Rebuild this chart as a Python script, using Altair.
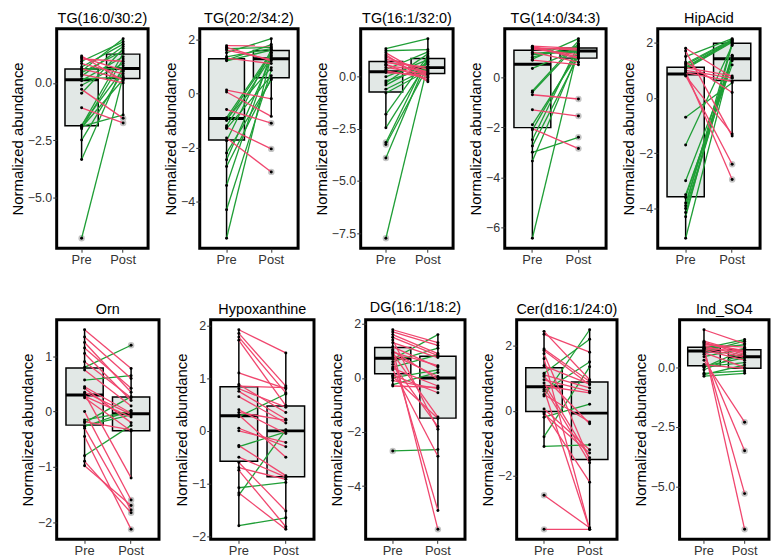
import altair as alt
import pandas as pd

# ---------------- data ----------------
titles = ["TG(16:0/30:2)", "TG(20:2/34:2)", "TG(16:1/32:0)", "TG(14:0/34:3)", "HipAcid",
          "Orn", "Hypoxanthine", "DG(16:1/18:2)", "Cer(d16:1/24:0)", "Ind_SO4"]

tg1_pre = [-6.8, -3.35, -2.5, -2.0, -1.95, -1.9, -1.88, -1.85, -1.09, -0.45, -0.28, -0.1, 0.1,
           0.18, 0.3, 0.38, 0.45, 0.52, 0.58, 0.62, 0.7, 0.85, 0.95, 1.05, 1.12, 1.18]
tg1_post = [0.3, 0.75, 0.5, 1.05, 0.15, -1.4, 1.3, 0.6, -1.75, 1.5, -1.55, 0.85, 1.15,
            0.25, 1.6, 0.0, 1.4, 1.94, 0.66, 0.18, 1.7, 0.4, 1.8, 0.95, 0.55, 0.1]

tg2_pre = [-5.35, -4.3, -3.4, -2.7, -2.45, -2.2, -1.75, -1.65, -1.3, -1.25, -1.2, -1.0, -0.95,
           -0.9, -0.6, 0.05, 0.12, 1.2, 1.23, 1.3, 1.35, 1.5, 1.6, 1.65, 1.7, 1.76]
tg2_post = [1.4, 0.85, 1.5, 0.55, 1.3, 0.5, 1.62, -2.9, 0.65, -2.05, 1.35, 1.45, 0.95,
            1.52, -1.1, -0.85, -0.2, 1.6, 1.8, 1.1, 1.65, 2.02, 1.25, 1.7, 1.2, 1.75]

tg3_pre = [-7.75, -3.9, -3.25, -3.15, -2.45, -1.8, -0.78, -0.6, -0.4, -0.3, -0.2, 0.0, 0.2,
           0.28, 0.35, 0.45, 0.55, 0.6, 0.68, 0.75, 0.85, 0.95, 1.05, 1.15, 1.25, 1.35]
tg3_post = [0.6, 0.9, 0.5, 0.95, 0.75, 1.0, 0.3, 0.4, 0.68, 1.1, 0.42, 0.82, 0.08,
            -0.05, 1.2, 0.12, 0.25, -0.15, 0.46, 0.15, 0.35, 0.2, -0.24, 0.0, 1.3, 1.83]

tg4_pre = [-6.43, -3.35, -3.0, -2.75, -2.5, -2.1, -2.05, -1.9, -1.3, -0.7, -0.6, -0.55, 0.35,
           0.68, 0.72, 0.8, 0.9, 0.95, 1.0, 1.1, 1.12, 1.15, 1.18, 1.2, 1.22, 1.24]
tg4_post = [1.2, 1.0, -2.4, 0.85, 1.3, 1.1, -2.85, 0.95, -1.55, -0.87, 1.35, 1.45, 1.12,
            0.5, 1.54, 1.25, 1.03, 1.07, 0.6, 1.17, 0.9, 1.13, 1.08, 0.75, 0.8, 1.15]

hip_pre = [-5.08, -4.3, -4.15, -4.0, -3.9, -3.8, -3.6, -3.5, -3.0, -1.7, -0.7, 0.8, 0.82,
           0.92, 0.95, 1.0, 1.05, 1.08, 1.1, 1.12, 1.2, 1.25, 1.3, 1.5, 1.7, 1.8]
hip_post = [1.5, 1.95, 1.52, 1.45, 2.0, 1.55, 1.4, 1.2, 1.35, 1.9, 0.55, -1.3, -2.4,
            0.6, -2.95, 0.72, 2.02, 2.05, 0.8, 2.08, 2.1, 2.12, 0.2, 2.15, -1.38, 0.75]

orn_pre = [-0.98, -0.9, -0.8, -0.45, -0.3, -0.27, -0.26, -0.2, -0.18, -0.15, 0.0, 0.25, 0.28,
           0.32, 0.35, 0.42, 0.45, 0.57, 0.75, 0.8, 0.9, 1.05, 1.15, 1.25, 1.35, 1.48]
orn_post = [-1.7, -1.83, -0.25, -2.13, -1.78, 0.02, -0.06, 0.27, -0.33, 0.0, -1.6, -0.35, -0.1,
            -1.2, -0.05, -0.2, -0.03, 0.65, 0.1, 1.2, 0.25, 0.2, 0.42, 0.35, 0.6, 0.78]

hyp_pre = [-1.8, -1.22, -1.18, -1.08, -0.75, -0.7, -0.6, -0.5, -0.3, -0.28, 0.0, 0.05, 0.27,
           0.3, 0.35, 0.4, 0.65, 0.75, 0.8, 0.85, 0.88, 1.1, 1.72, 1.78, 1.85, 1.92]
hyp_post = [-1.65, 0.02, -1.87, -0.98, -1.82, -0.92, -1.52, -0.88, -0.02, -0.85, -0.22, -0.3, 0.7,
            -0.5, 0.2, -0.05, 0.15, 0.22, 0.45, 0.82, 0.35, 0.8, 0.48, 0.72, 0.85, 1.48]

dg_pre = [-2.7, -0.3, -0.25, -0.1, 0.0, 0.05, 0.1, 0.3, 0.35, 0.4, 0.5, 0.6, 0.7,
          0.76, 0.85, 0.9, 0.95, 1.0, 1.05, 1.15, 1.3, 1.4, 1.5, 1.6, 1.7, 1.78]
dg_post = [-2.65, -0.35, 0.2, -0.4, 0.3, -1.5, -0.55, -2.9, -0.3, 0.85, -1.8, 1.1, 1.6,
           -4.9, 0.05, -1.45, 0.45, -0.05, -5.6, 0.4, 0.75, -1.9, 0.82, 0.9, 1.2, 1.3]

cer_pre = [-3.65, -2.6, -1.1, -0.8, -0.2, -0.1, -0.05, 0.05, 0.45, 0.5, 0.6, 0.65, 0.72,
           0.76, 0.85, 0.95, 1.05, 1.1, 1.15, 1.38, 1.6, 1.75, 1.85, 1.9, 2.35, 2.44]
cer_post = [-3.65, -3.6, -1.05, 1.35, 0.2, -1.3, -2.2, -1.2, 2.49, -0.35, 1.5, -3.65, -1.6,
            0.55, -1.45, 0.6, -0.4, 0.7, 2.2, 0.82, -3.65, -1.52, 0.8, 0.9, 1.8, 0.95]

ind_pre = [-0.37, -0.3, -0.25, -0.1, 0.0, 0.03, 0.05, 0.12, 0.3, 0.45, 0.55, 0.62, 0.66,
           0.72, 0.75, 0.78, 0.8, 0.81, 0.82, 0.86, 0.9, 0.95, 1.0, 1.05, 1.1, 1.58]
ind_post = [-0.25, 0.1, -0.15, 0.6, 0.75, 0.2, 0.4, -0.05, -2.3, 0.8, -3.5, 0.0, 1.1,
            0.3, -5.3, 0.95, 0.42, 1.17, 0.65, -6.8, 0.48, 0.85, 0.7, 0.55, 0.62, 1.0]

pre_series = [tg1_pre, tg2_pre, tg3_pre, tg4_pre, hip_pre, orn_pre, hyp_pre, dg_pre, cer_pre, ind_pre]
post_series = [tg1_post, tg2_post, tg3_post, tg4_post, hip_post, orn_post, hyp_post, dg_post, cer_post, ind_post]

y_tick_values = [[-5, -2.5, 0], [-4, -2, 0, 2], [-7.5, -5, -2.5, 0], [-6, -4, -2, 0], [-4, -2, 0, 2],
                 [-2, -1, 0, 1], [-2, -1, 0, 1, 2], [-6, -4, -2, 0, 2], [-2, 0, 2], [-5, -2.5, 0]]
y_tick_formats = [".1f", "d", ".1f", "d", "d", "d", "d", "d", "d", ".1f"]

time_levels = ["Pre", "Post"]

# ---------------- styling / layout ----------------
GREEN = "#1f9e36"
PINK = "#f0466e"
BOX_FILL = "#e2e8e6"
FONT = "Liberation Sans"
panel_widths = [92, 99, 93, 102, 103, 103, 104, 100, 101, 90]
row_heights = [221, 221]


def make_panel(i):
    pre, post = pre_series[i], post_series[i]
    n = len(pre)
    direction = ["up" if b > a else "down" for a, b in zip(pre, post)]
    df = pd.DataFrame({
        "subject": list(range(n)) * 2,
        "time": ["Pre"] * n + ["Post"] * n,
        "value": pre + post,
        "dir": direction * 2,
    })
    lo, hi = min(pre + post), max(pre + post)
    pad = 0.05 * (hi - lo)
    w = panel_widths[i]
    h = row_heights[0] if i < 5 else row_heights[1]
    bw = w * 0.8 / 2.2

    x = alt.X("time:N", sort=time_levels,
              scale=alt.Scale(domain=time_levels, paddingInner=0.2, paddingOuter=0.2),
              axis=alt.Axis(title=None, labelAngle=0, domain=False, ticks=True, tickSize=4,
                            tickColor="#333333", labelPadding=1, labelFontSize=13))
    yscale = alt.Scale(domain=[lo - pad, hi + pad], nice=False, zero=False, padding=0)
    y = alt.Y("value:Q", scale=yscale,
              axis=alt.Axis(values=y_tick_values[i], format=y_tick_formats[i],
                            title="Normalized abundance", grid=False, domain=False,
                            ticks=True, tickSize=4, tickColor="#333333",
                            labelPadding=1, titlePadding=2))

    base = alt.Chart(df)
    box = base.mark_boxplot(
        extent=1.5, size=bw,
        box={"fill": BOX_FILL, "stroke": "black", "strokeWidth": 1.5, "opacity": 1},
        median=False,
        rule={"color": "black", "strokeWidth": 1.5, "opacity": 1},
        outliers={"color": "#c4c4c4", "size": 42, "filled": True, "opacity": 1},
    ).encode(x=x, y=y)
    med = base.mark_tick(thickness=3, size=bw, color="black", opacity=1).encode(
        x=x, y=alt.Y("median(value):Q", scale=yscale))
    lines = base.mark_line(strokeWidth=1.3).encode(
        x=x, y=y, detail="subject:N",
        color=alt.Color("dir:N", scale=alt.Scale(domain=["up", "down"], range=[GREEN, PINK]),
                        legend=None),
    )
    pts = base.mark_circle(size=9, color="black", opacity=1).encode(x=x, y=y)
    return alt.layer(box, med, lines, pts).properties(
        width=w, height=h,
        title=alt.TitleParams(titles[i], fontSize=14.5, fontWeight="normal", font=FONT,
                              color="black", anchor="middle", frame="group", offset=2),
    )


row1 = alt.hconcat(*[make_panel(i) for i in range(5)], spacing=12).resolve_scale(
    x="independent", y="independent")
row2 = alt.hconcat(*[make_panel(i) for i in range(5, 10)], spacing=12).resolve_scale(
    x="independent", y="independent")

chart = alt.vconcat(row1, row2, spacing=31).resolve_scale(
    x="independent", y="independent"
).properties(padding=0, background="white").configure_view(
    stroke="black", strokeWidth=3
).configure_axis(
    labelFont=FONT, titleFont=FONT, labelFontSize=12.5, labelColor="#333333",
    titleFontSize=15, titleFontWeight="normal", titleColor="black"
)

chart.save("out.html", embed_options={"renderer": "svg", "actions": False})
